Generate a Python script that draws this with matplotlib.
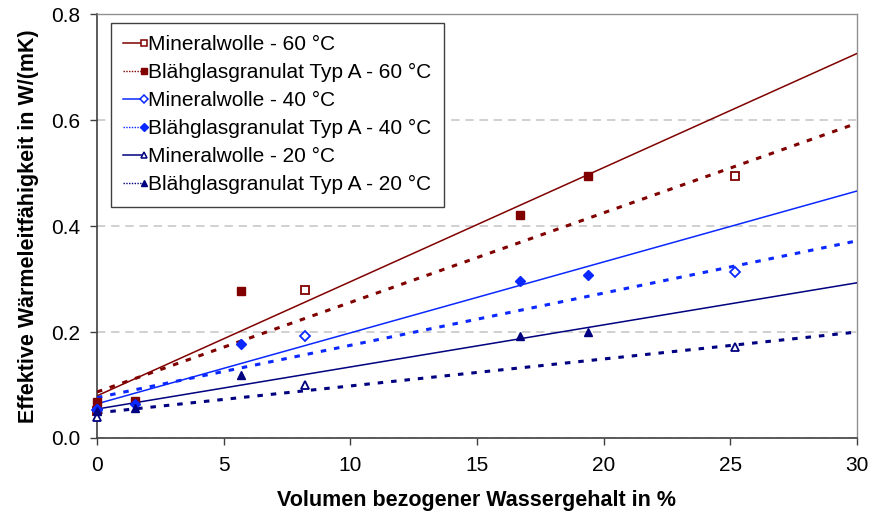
import numpy as np
import matplotlib
matplotlib.use("Agg")
import matplotlib.pyplot as plt
from matplotlib.lines import Line2D
from matplotlib.legend_handler import HandlerLine2D

plt.rcParams['font.family'] = ['Liberation Sans', 'DejaVu Sans']

# water content (vol.-%) of the samples
x_mw = [0, 8.2, 25.2]
x_bg = [0, 1.5, 5.7, 16.7, 19.4]

# effective thermal conductivity W/(mK)
mw_60 = [0.05, 0.28, 0.495]
bg_60 = [0.068, 0.070, 0.277, 0.420, 0.495]
mw_40 = [0.052, 0.193, 0.313]
bg_40 = [0.055, 0.065, 0.178, 0.297, 0.307]
mw_20 = [0.040, 0.100, 0.172]
bg_20 = [0.050, 0.057, 0.118, 0.192, 0.200]

labels = ["Mineralwolle - 60 °C", "Blähglasgranulat Typ A - 60 °C",
          "Mineralwolle - 40 °C", "Blähglasgranulat Typ A - 40 °C",
          "Mineralwolle - 20 °C", "Blähglasgranulat Typ A - 20 °C"]

red = "#800000"
blue = "#0A28FF"
navy = "#000080"
dot_style = (0, (1.8, 2.6))


class EndMarkerHandler(HandlerLine2D):
    # Excel-like legend key: marker sits at the right end of the line
    def create_artists(self, legend, orig_handle, xdescent, ydescent, width,
                       height, fontsize, trans):
        arts = super().create_artists(legend, orig_handle, xdescent, ydescent,
                                      width, height, fontsize, trans)
        for a in arts:
            n = len(a.get_xdata())
            a.set_markevery([n - 1])
        return arts


fig = plt.figure(figsize=(8.88, 5.2), dpi=100)
ax = fig.add_axes([0.1092, 0.1577, 0.8558, 0.8153])

xfit = np.array([0, 30])
series = [
    (x_mw, mw_60, x_bg, bg_60, red, "s"),
    (x_mw, mw_40, x_bg, bg_40, blue, "D"),
    (x_mw, mw_20, x_bg, bg_20, navy, "^"),
]

# trend lines
for xm, ym, xb, yb, col, mk in series:
    p = np.polyfit(xb, yb, 1)
    ax.plot(xfit, np.polyval(p, xfit), color=col, lw=1.1, zorder=3)
    p = np.polyfit(xm, ym, 1)
    ax.plot(xfit, np.polyval(p, xfit), color=col, lw=2.2, ls=dot_style, zorder=3)

# measured points
handles = []
for xm, ym, xb, yb, col, mk in series:
    ms = 6.3 if mk == "s" else (5.2 if mk == "D" else 6.3)
    ax.plot(xm, ym, ls="none", marker=mk, ms=ms, mfc="white", mec=col, mew=1.3,
            zorder=5, clip_on=False)
    ax.plot(xb, yb, ls="none", marker=mk, ms=ms, mfc=col, mec=col, mew=1.0,
            zorder=5, clip_on=False)
    handles.append(Line2D([], [], color=col, lw=1.1, marker=mk, ms=ms - 1.5,
                          mfc="white", mec=col, mew=1.1))
    handles.append(Line2D([], [], color=col, lw=1.0, ls=(0, (1, 1)), marker=mk,
                          ms=ms - 1.5, mfc=col, mec=col))

ax.set_xlim(0, 30)
ax.set_ylim(0, 0.8)
ax.set_xticks(np.arange(0, 31, 5))
ax.set_yticks(np.arange(0, 0.81, 0.2))
ax.set_yticklabels(["%.1f" % v for v in np.arange(0, 0.81, 0.2)])
ax.tick_params(labelsize=15, direction="out", length=5, width=1, color="#404040")
ax.tick_params(axis="x", pad=8)
ax.tick_params(axis="y", pad=7)

ax.yaxis.grid(True, color="#C8C8C8", ls=(0, (5, 3.5)), lw=1.2)
ax.set_axisbelow(True)

for s in ["left", "bottom"]:
    ax.spines[s].set_color("#404040")
    ax.spines[s].set_linewidth(1.2)
for s in ["right", "top"]:
    ax.spines[s].set_color("#909090")
    ax.spines[s].set_linewidth(1.0)

ax.set_xlabel("Volumen bezogener Wassergehalt in %", fontsize=15.5, fontweight="bold",
              labelpad=11)
ax.set_ylabel("Effektive Wärmeleitfähigkeit in W/(mK)", fontsize=15.5, fontweight="bold",
              labelpad=9)

leg = ax.legend(handles, labels, loc="upper left", bbox_to_anchor=(0.0184, 0.9795),
                borderaxespad=0, fontsize=15, frameon=True, fancybox=False,
                framealpha=1, edgecolor="#404040", handlelength=1.0, handletextpad=0.2,
                labelspacing=0.43, borderpad=0.6, numpoints=1,
                handler_map={Line2D: EndMarkerHandler()})
leg.get_frame().set_linewidth(1.0)
leg.set_zorder(10)

fig.savefig("out.png", dpi=100)
